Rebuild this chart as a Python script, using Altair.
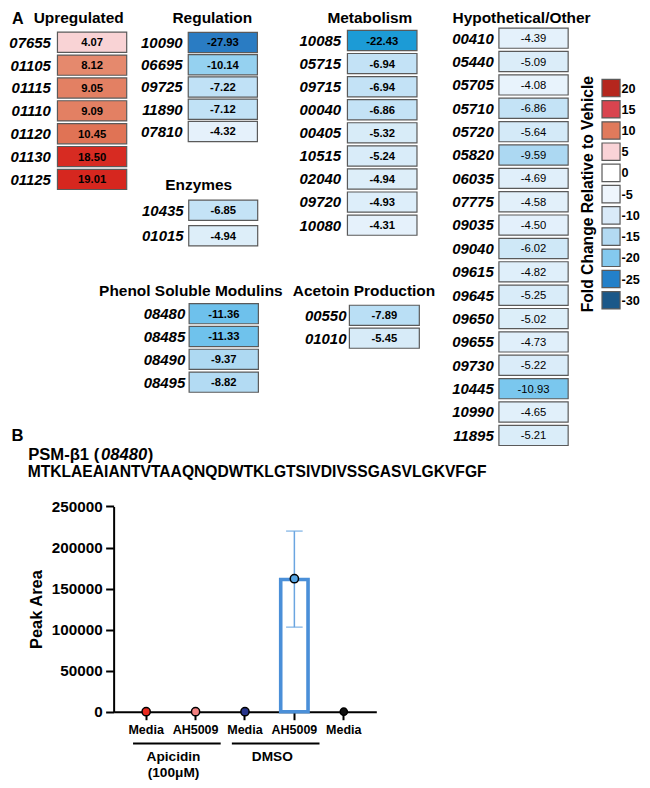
import altair as alt
import pandas as pd

# ---------------- data ----------------
up_genes = ["07655", "01105", "01115", "01110", "01120", "01130", "01125"]
up_vals = [4.07, 8.12, 9.05, 9.09, 10.45, 18.50, 19.01]
reg_genes = ["10090", "06695", "09725", "11890", "07810"]
reg_vals = [-27.93, -10.14, -7.22, -7.12, -4.32]
enz_genes = ["10435", "01015"]
enz_vals = [-6.85, -4.94]
psm_genes = ["08480", "08485", "08490", "08495"]
psm_vals = [-11.36, -11.33, -9.37, -8.82]
met_genes = ["10085", "05715", "09715", "00040", "00405", "10515", "02040", "09720", "10080"]
met_vals = [-22.43, -6.94, -6.94, -6.86, -5.32, -5.24, -4.94, -4.93, -4.31]
ace_genes = ["00550", "01010"]
ace_vals = [-7.89, -5.45]
hyp_genes = ["00410", "05440", "05705", "05710", "05720", "05820", "06035", "07775", "09035",
             "09040", "09615", "09645", "09650", "09655", "09730", "10445", "10990", "11895"]
hyp_vals = [-4.39, -5.09, -4.08, -6.86, -5.64, -9.59, -4.69, -4.58, -4.50,
            -6.02, -4.82, -5.25, -5.02, -4.73, -5.22, -10.93, -4.65, -5.21]
legend_ticks = [20, 15, 10, 5, 0, -5, -10, -15, -20, -25, -30]
legend_title = "Fold Change Relative to Vehicle"

b_strain = ["Media", "AH5009", "Media", "AH5009", "Media"]
b_treatment = ["Apicidin", "Apicidin", "DMSO", "DMSO", "None"]
b_point = [0, 0, 0, 162000, 0]
b_mean = [0, 0, 0, 161000, 0]
b_err_low = [0, 0, 0, 103000, 0]
b_err_high = [0, 0, 0, 220000, 0]
b_yticks = [0, 50000, 100000, 150000, 200000, 250000]
b_group_names = ["Apicidin", "DMSO"]
b_group_notes = ["(100\u03bcM)", ""]
psm_name = "PSM-\u03b21 ("
psm_gene = "08480"
psm_sequence = "MTKLAEAIANTVTAAQNQDWTKLGTSIVDIVSSGASVLGKVFGF"

# ---------------- layout / style ----------------
W, H = 634, 772
SX, SY = W / 650, H / 788
FS = (SX + SY) / 2
FONT = "Liberation Sans"


def X(r):
    return round(r * SX, 2)


def Y(r):
    return round(r * SY, 2)


MINUS_FIX = "replace(format(datum.fc, '.2f'), '\u2212', '-')"

cell_stops = [-28, -22.4, -11.4, -10.5, -9.6, -7, -5.5, -4, 0, 4, 8, 10.5, 19]
cell_colors = ["#2a7cc3", "#1c9bd6", "#6dc1ec", "#86ccef", "#acd8f2", "#c2e2f6", "#d6ebf8",
               "#e9f3fc", "#ffffff", "#f9d4d7", "#e58a6e", "#e07354", "#d6271f"]
cell_scale = alt.Scale(type="linear", domain=cell_stops, range=cell_colors,
                       interpolate="rgb", clamp=True)
legend_colors = ["#b5261e", "#d9444f", "#e07a5c", "#f9d3d7", "#ffffff", "#eef5fc",
                 "#d9eaf8", "#b3daf2", "#84c9ee", "#2380c9", "#1b5889"]


def heat_group(genes, vals, c0, step, x0, x1, label_right, val_weight="bold"):
    n = len(genes)
    df = pd.DataFrame({"gene": genes, "fc": vals})
    p = 1 - 20.6 / step
    ys = alt.Scale(domain=genes, range=[Y(c0 - step / 2), Y(c0 + (n - 1) * step + step / 2)],
                   paddingInner=p, paddingOuter=p / 2)
    yenc = alt.Y("gene:N", scale=ys, axis=None)
    base = alt.Chart(df)
    cells = base.mark_rect(stroke="#5a5a5a", strokeWidth=1.2).encode(
        x=alt.value(X(x0)), x2=alt.value(X(x1)), y=yenc,
        color=alt.Color("fc:Q", scale=cell_scale, legend=None))
    values = base.transform_calculate(lbl=MINUS_FIX).mark_text(
        font=FONT, fontSize=11.5 * FS, fontWeight=val_weight, align="center",
        baseline="alphabetic", dy=4.1 * FS, color="black").encode(
        x=alt.value(X((x0 + x1) / 2)), y=yenc, text="lbl:N")
    labels = base.mark_text(
        font=FONT, fontSize=15.3 * FS, fontWeight="bold", fontStyle="italic", align="right",
        baseline="alphabetic", dy=5.5 * FS, color="black").encode(
        x=alt.value(X(label_right)), y=yenc, text="gene:N")
    return alt.layer(cells, values, labels)


def label(text, x, y, size, weight="bold", style="normal", align="left", angle=0,
          baseline="alphabetic", dx=0):
    return alt.Chart(alt.Data(values=[{"t": text}])).mark_text(
        font=FONT, fontSize=size * FS, fontWeight=weight, fontStyle=style, align=align,
        baseline=baseline, angle=angle, color="black", dx=dx).encode(
        x=alt.value(X(x)), y=alt.value(Y(y)), text="t:N")


# ---------------- panel A ----------------
panelA = alt.layer(
    heat_group(up_genes, up_vals, 35.0, 23.33, 50.7, 121.7, 44),
    heat_group(reg_genes, reg_vals, 35.2, 22.7, 184.8, 255.7, 179),
    heat_group(enz_genes, enz_vals, 206.5, 26.0, 185.3, 256.0, 180),
    heat_group(psm_genes, psm_vals, 312.0, 23.3, 185.7, 256.7, 181.7),
    heat_group(met_genes, met_vals, 33.2, 23.56, 348.0, 419.3, 341.5),
    heat_group(ace_genes, ace_vals, 313.7, 23.3, 350.0, 421.7, 347),
    heat_group(hyp_genes, hyp_vals, 30.8, 23.85, 503.3, 574.3, 498, val_weight="normal"),
).resolve_scale(y="independent")

# legend drawn as a column of swatches
leg_df = pd.DataFrame({"tick": legend_ticks})
leg_y = alt.Y("tick:O", scale=alt.Scale(domain=legend_ticks,
                                        range=[Y(81.7 - 10.83), Y(298.3 + 10.83)],
                                        paddingInner=0.18, paddingOuter=0.09), axis=None)
leg_sw = alt.Chart(leg_df).mark_rect(stroke="#5a5a5a", strokeWidth=1.2).encode(
    x=alt.value(X(609)), x2=alt.value(X(627.5)), y=leg_y,
    color=alt.Color("tick:O", scale=alt.Scale(domain=legend_ticks, range=legend_colors),
                    legend=None))
leg_tx = alt.Chart(leg_df).transform_calculate(lbl="'' + datum.tick").mark_text(
    font=FONT, fontSize=13 * FS, fontWeight="bold", align="left", baseline="alphabetic",
    dy=4.6 * FS, color="black").encode(x=alt.value(X(629)), y=leg_y, text="lbl:N")
legend_layer = alt.layer(leg_sw, leg_tx)

# ---------------- panel B ----------------
bdf = pd.DataFrame({"strain": b_strain, "treatment": b_treatment, "point": b_point,
                    "mean": b_mean, "lo": b_err_low, "hi": b_err_high})
bdf["cond"] = bdf["treatment"] + " | " + bdf["strain"]
cond_ids = list(bdf["cond"])
point_colors = ["#e8291f", "#f27f7f", "#27348b", "#58a6e4", "#111111"]

xs = alt.Scale(domain=cond_ids, range=[X(108.3), X(377.6)], paddingInner=0.447,
               paddingOuter=0.382)
xa = alt.Axis(orient="bottom", offset=-(H - Y(718.3)), title=None,
              labelExpr="split(datum.value, ' | ')[1]", labelFont=FONT,
              labelFontSize=12.8 * FS, labelFontWeight="bold", labelColor="black",
              labelAngle=0, labelPadding=4, tickSize=8, tickWidth=2, tickColor="black",
              domainColor="black", domainWidth=2, grid=False)
ys = alt.Scale(domain=[0, 250000], range=[Y(718.3), Y(508.8)])
ya = alt.Axis(orient="left", offset=-X(108.3), values=b_yticks, format="d", title="Peak Area",
              titleFont=FONT, titleFontSize=16.8 * FS, titleFontWeight="bold",
              titleColor="black", titlePadding=7, labelFont=FONT, labelFontSize=15.6 * FS,
              labelFontWeight="bold", labelColor="black", labelPadding=3.5, tickSize=8,
              tickWidth=2, tickColor="black", domainColor="black", domainWidth=2, grid=False)
bx = alt.X("cond:N", scale=xs, axis=xa)
band_px = 28 * SX  # bar band width in view pixels

bar = alt.Chart(bdf).transform_filter("datum.mean > 0").mark_bar(
    fill="white", stroke="#4a8fd8", strokeWidth=3.6).encode(
    x=bx, y=alt.Y("mean:Q", scale=ys, axis=ya))
err = alt.Chart(bdf).transform_filter("datum.hi > 0").mark_rule(
    color="#6aa5e0", strokeWidth=1.5).encode(
    x=bx, y=alt.Y("lo:Q", scale=ys, axis=ya), y2="hi:Q")
caps = alt.Chart(bdf).transform_filter("datum.hi > 0").transform_fold(
    ["lo", "hi"], as_=["end", "val"]).mark_tick(
    color="#6aa5e0", thickness=1.5, size=X(17), orient="horizontal").encode(
    x=bx, y=alt.Y("val:Q", scale=ys, axis=ya))
pts = alt.Chart(bdf).mark_circle(stroke="black", strokeWidth=1.5, opacity=1).encode(
    x=bx, y=alt.Y("point:Q", scale=ys, axis=ya),
    color=alt.Color("cond:N", scale=alt.Scale(domain=cond_ids, range=point_colors), legend=None),
    size=alt.condition("datum.treatment === 'None'", alt.value(52), alt.value(68)))

grp_first = [bdf[bdf.treatment == g]["cond"].iloc[0] for g in b_group_names]
grp_last = [bdf[bdf.treatment == g]["cond"].iloc[-1] for g in b_group_names]
grp_df = pd.DataFrame({"grp": [g + ("\n" + n if n else "") for g, n in zip(b_group_names, b_group_notes)],
                       "c1": grp_first, "c2": grp_last})
grp_lines = alt.Chart(grp_df).mark_rule(
    color="black", strokeWidth=2, x2Offset=0.42 * band_px).encode(
    x=alt.X("c1:N", scale=xs, axis=xa, bandPosition=0.02),
    x2=alt.X2("c2:N", bandPosition=1),
    y=alt.value(Y(750.7)))
grp_text = alt.Chart(grp_df).mark_text(
    font=FONT, fontSize=14 * FS, fontWeight="bold", align="center", baseline="alphabetic",
    lineBreak="\n", lineHeight=16 * FS, color="black", dx=0.5 * band_px).encode(
    x=alt.X("c1:N", scale=xs, axis=xa, bandPosition=1),
    y=alt.value(Y(768.5)), text="grp:N")

panelB = alt.layer(bar, err, caps, pts, grp_lines, grp_text)

# ---------------- titles ----------------
psm_fs = 17.0
name_w = 4.29 * psm_fs * FS + 1.5       # advance of "PSM-β1 ("
gene_w = 2.78 * psm_fs * FS + 0.5       # advance of italic "08480"
texts = [
    label("A", 4.0, 16.2, 16.5),
    label("Upregulated", 72.5, 15, 15.8, align="center"),
    label("Regulation", 209.5, 15, 15.8, align="center"),
    label("Metabolism", 371, 15, 15.8, align="center"),
    label("Hypothetical/Other", 526.5, 15, 15.8, align="center"),
    label("Enzymes", 195.5, 186, 15.8, align="center"),
    label("Phenol Soluble Modulins", 187.5, 293.5, 15.8, align="center"),
    label("Acetoin Production", 365, 293.5, 15.8, align="center"),
    label(legend_title, 595, 190, 16, align="center", angle=270, baseline="middle"),
    label("B", 3.6, 441.7, 17),
    label(psm_name, 20.7, 461.7, psm_fs),
    label(psm_gene, 20.7, 461.7, psm_fs, style="italic", dx=name_w),
    label(")", 20.7, 461.7, psm_fs, dx=name_w + gene_w),
    label(psm_sequence, 20.2, 478.3, 16),
]

chart = alt.layer(panelA, legend_layer, panelB, *texts).resolve_scale(
    x="independent", y="independent", color="independent"
).properties(
    width=W, height=H, padding=0, autosize=alt.AutoSizeParams(type="none"),
    background="white"
).configure_view(stroke=None)

chart.save("out.html", embed_options={"renderer": "svg", "actions": False})
